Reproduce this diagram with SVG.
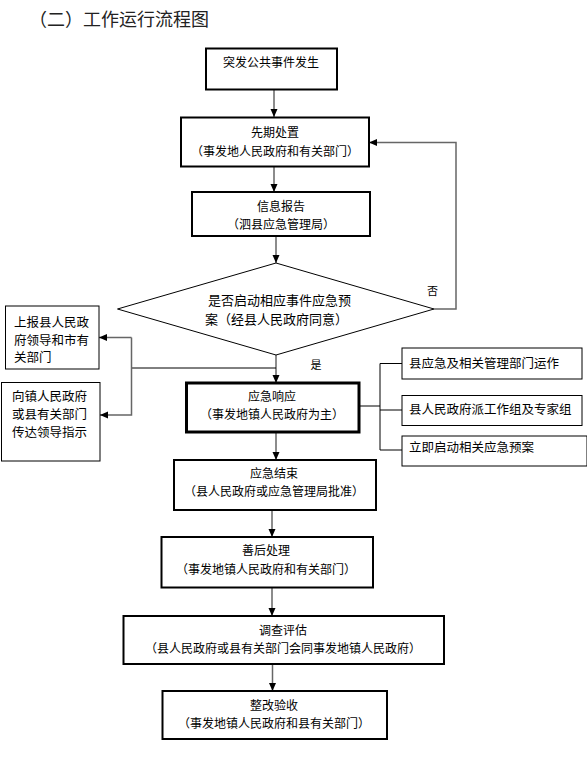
<svg xmlns="http://www.w3.org/2000/svg" width="587" height="757" viewBox="0 0 587 757">
<defs>
<marker id="ah" viewBox="0 0 8 8" refX="8" refY="4" markerWidth="8" markerHeight="8" markerUnits="userSpaceOnUse" orient="auto">
<path d="M0,0.5 L8,4 L0,7.5 Z" fill="#000"/>
</marker>
<style>
text{font-family:"Liberation Sans","Noto Sans CJK SC",sans-serif;fill:#000;}
.t{font-size:12px;text-anchor:middle;dominant-baseline:central;}
.s{font-size:12.5px;dominant-baseline:central;}
.box{fill:#fff;stroke:#000;stroke-width:2;}
.thin{fill:#fff;stroke:#000;stroke-width:1;}
.thick{fill:#fff;stroke:#000;stroke-width:3;}
.c{fill:none;stroke:#666;stroke-width:1.5;}
.k{fill:none;stroke:#000;stroke-width:1;}
</style>
</defs>
<rect width="587" height="757" fill="#fff"/>
<text x="29" y="20" style="font-size:18px;dominant-baseline:central;fill:#222;">（二）工作运行流程图</text>

<g id="connectors">
<path class="c" d="M274,90 V117" marker-end="url(#ah)"/>
<path class="c" d="M274,167 V192" marker-end="url(#ah)"/>
<path class="c" d="M276,236 V263" marker-end="url(#ah)"/>
<path class="c" d="M434,309 H456 V142.5 H369" marker-end="url(#ah)"/>
<path class="c" d="M276,355 V383" marker-end="url(#ah)"/>
<path class="k" d="M276,368 H131.5"/>
<path class="c" d="M131.5,337.5 V415 H100" marker-end="url(#ah)"/>
<path class="c" d="M131.5,337.5 H99" marker-end="url(#ah)"/>
<path class="k" d="M359,406 H380 M380,363.5 V450 M380,363.5 H402 M380,410 H402 M380,450 H402"/>
<path class="c" d="M276,432 V460" marker-end="url(#ah)"/>
<path class="c" d="M272,510 V537" marker-end="url(#ah)"/>
<path class="c" d="M272,588 V616" marker-end="url(#ah)"/>
<path class="c" d="M272.5,664 V691" marker-end="url(#ah)"/>
</g>

<g id="n1"><rect class="box" x="206" y="48.5" width="131" height="41"/><text class="t" x="271" y="63">突发公共事件发生</text></g>
<g id="n2"><rect class="box" x="181" y="117.5" width="188" height="49"/><text class="t" x="275" y="133">先期处置</text><text class="t" x="275" y="151.5">（事发地人民政府和有关部门）</text></g>
<g id="n3"><rect class="box" x="192" y="192" width="178" height="44"/><text class="t" x="281" y="206.5">信息报告</text><text class="t" x="281" y="225">（泗县应急管理局）</text></g>
<g id="n4"><path class="thin" d="M276,263 L434,309 L276,355 L117.5,309 Z"/><text class="s" x="208" y="300" style="font-size:13px">是否启动相应事件应急预</text><text class="s" x="205" y="319" style="font-size:13px">案（经县人民政府同意）</text></g>
<text x="432.5" y="291" style="font-size:11px;text-anchor:middle;dominant-baseline:central;">否</text>
<text x="316" y="365" style="font-size:11px;text-anchor:middle;dominant-baseline:central;">是</text>
<g id="n5"><rect class="thin" x="5.5" y="306" width="93.5" height="63"/><text class="s" x="14" y="323">上报县人民政</text><text class="s" x="14" y="340.5">府领导和市有</text><text class="s" x="14" y="358">关部门</text></g>
<g id="n6"><rect class="thin" x="1.5" y="382.5" width="98.5" height="78.5"/><text class="s" x="12" y="397">向镇人民政府</text><text class="s" x="12" y="415">或县有关部门</text><text class="s" x="12" y="433">传达领导指示</text></g>
<g id="n7"><rect class="thick" x="186.5" y="383" width="172.5" height="49"/><text class="t" x="272" y="397">应急响应</text><text class="t" x="272" y="415">（事发地镇人民政府为主）</text></g>
<g id="n8"><rect class="thin" x="402" y="348" width="180" height="31"/><text class="s" x="409" y="364">县应急及相关管理部门运作</text></g>
<g id="n9"><rect class="thin" x="402" y="395.5" width="180" height="30"/><text class="s" x="409" y="410">县人民政府派工作组及专家组</text></g>
<g id="n10"><rect class="thin" x="402" y="436" width="185" height="30"/><text class="s" x="409" y="448">立即启动相关应急预案</text></g>
<g id="n11"><rect class="box" x="174" y="460" width="202" height="50"/><text class="t" x="274" y="474">应急结束</text><text class="t" x="274" y="492">（县人民政府或应急管理局批准）</text></g>
<g id="n12"><rect class="box" x="161.5" y="537" width="211.5" height="50.5"/><text class="t" x="266" y="551">善后处理</text><text class="t" x="266" y="569.5">（事发地镇人民政府和有关部门）</text></g>
<g id="n13"><rect class="box" x="123.5" y="616" width="320.5" height="48"/><text class="t" x="283" y="631">调查评估</text><text class="t" x="283" y="648.5">（县人民政府或县有关部门会同事发地镇人民政府）</text></g>
<g id="n14"><rect class="box" x="162.5" y="691" width="224.5" height="48"/><text class="t" x="274" y="706">整改验收</text><text class="t" x="274" y="723.5">（事发地镇人民政府和县有关部门）</text></g>
</svg>
